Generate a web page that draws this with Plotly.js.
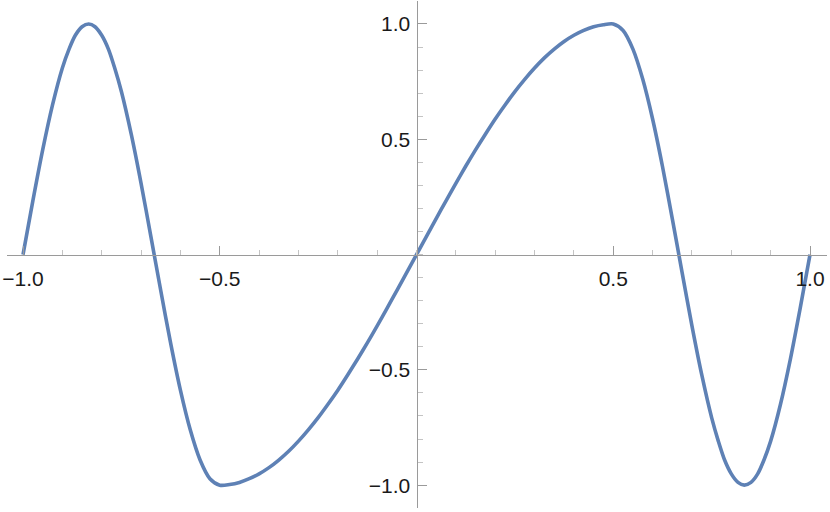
<!DOCTYPE html>
<html>
<head>
<meta charset="utf-8">
<script src="https://cdn.plot.ly/plotly-3.0.1.min.js"></script>
<style>
  html, body { margin: 0; padding: 0; background: #fff; }
  #graph { width: 830px; height: 512px; }
</style>
</head>
<body>
<div id="graph"></div>
<script>
// curve values
const xs = [-1, -0.975, -0.95, -0.925, -0.9, -0.883, -0.867, -0.85, -0.833, -0.817, -0.8, -0.783, -0.767,
    -0.75, -0.725, -0.7, -0.675, -0.65, -0.625, -0.6, -0.575, -0.55, -0.525, -0.5,
    -0.475, -0.45, -0.425, -0.4, -0.375, -0.35, -0.325, -0.3, -0.275, -0.25, -0.225, -0.2,
    -0.175, -0.15, -0.125, -0.1, -0.075, -0.05, -0.025, 0,
    0.025, 0.05, 0.075, 0.1, 0.125, 0.15, 0.175, 0.2, 0.225, 0.25, 0.275, 0.3,
    0.325, 0.35, 0.375, 0.4, 0.425, 0.45, 0.475, 0.5,
    0.525, 0.55, 0.575, 0.6, 0.625, 0.65, 0.675, 0.7, 0.725, 0.75,
    0.767, 0.783, 0.8, 0.817, 0.833, 0.85, 0.867, 0.883, 0.9, 0.925, 0.95, 0.975, 1];
const ys = [0, 0.233, 0.454, 0.649, 0.809, 0.891, 0.951, 0.988, 1.0, 0.988, 0.951, 0.891, 0.809,
    0.707, 0.522, 0.309, 0.078, -0.156, -0.383, -0.588, -0.760, -0.891, -0.972, -1.0,
    -0.997, -0.988, -0.972, -0.951, -0.924, -0.891, -0.853, -0.809, -0.760, -0.707, -0.649, -0.588,
    -0.522, -0.454, -0.383, -0.309, -0.233, -0.156, -0.078, 0,
    0.078, 0.156, 0.233, 0.309, 0.383, 0.454, 0.522, 0.588, 0.649, 0.707, 0.760, 0.809,
    0.853, 0.891, 0.924, 0.951, 0.972, 0.988, 0.997, 1.0,
    0.972, 0.891, 0.760, 0.588, 0.383, 0.156, -0.078, -0.309, -0.522, -0.707,
    -0.809, -0.891, -0.951, -0.988, -1.0, -0.988, -0.951, -0.891, -0.809, -0.649, -0.454, -0.233, 0];

const xTicks = [-1, -0.5, 0.5, 1];
const xTickText = ['\u22121.0', '\u22120.5', '0.5', '1.0'];
const yTicks = [-1, -0.5, 0.5, 1];
const yTickText = ['\u22121.0', '\u22120.5', '0.5', '1.0'];

const xRange = [-1.0407, 1.0432];
const yRange = [-1.099, 1.0997];

const axisGray = '#9a9a9a';
const minorGray = '#c4c4c4';
const labelFont = {family: 'Liberation Sans, Arial, sans-serif', size: 21, color: '#1a1a1a'};

let curve = {
    type: 'scatter',
    mode: 'lines',
    x: xs,
    y: ys,
    line: {color: '#5E81B5', width: 3.6, shape: 'spline', smoothing: 0.8},
    hoverinfo: 'none'
};

let layout = {
    width: 830,
    height: 512,
    margin: {l: 7, r: 3, t: 1, b: 4},
    paper_bgcolor: '#fff',
    plot_bgcolor: '#fff',
    showlegend: false,
    xaxis: {
        range: xRange,
        anchor: 'free',
        position: (0 - yRange[0]) / (yRange[1] - yRange[0]),
        showgrid: false,
        zeroline: false,
        showline: true,
        linecolor: axisGray,
        linewidth: 1,
        tickmode: 'array',
        tickvals: xTicks,
        ticktext: xTickText,
        ticks: 'inside',
        ticklen: 9,
        tickcolor: axisGray,
        tickwidth: 1,
        tickfont: labelFont,
        ticklabelstandoff: 5,
        minor: {dtick: 0.1, tick0: 0, ticks: 'inside', ticklen: 5, tickcolor: minorGray, tickwidth: 1},
        fixedrange: true
    },
    yaxis: {
        range: yRange,
        anchor: 'free',
        position: (0 - xRange[0]) / (xRange[1] - xRange[0]),
        showgrid: false,
        zeroline: false,
        showline: true,
        linecolor: axisGray,
        linewidth: 1,
        tickmode: 'array',
        tickvals: yTicks,
        ticktext: yTickText,
        ticks: 'inside',
        ticklen: 9,
        tickcolor: axisGray,
        tickwidth: 1,
        tickfont: labelFont,
        ticklabelstandoff: 2,
        minor: {dtick: 0.1, tick0: 0, ticks: 'inside', ticklen: 5, tickcolor: minorGray, tickwidth: 1},
        fixedrange: true
    }
};

Plotly.newPlot('graph', [curve], layout, {displayModeBar: false, staticPlot: true});
</script>
</body>
</html>
